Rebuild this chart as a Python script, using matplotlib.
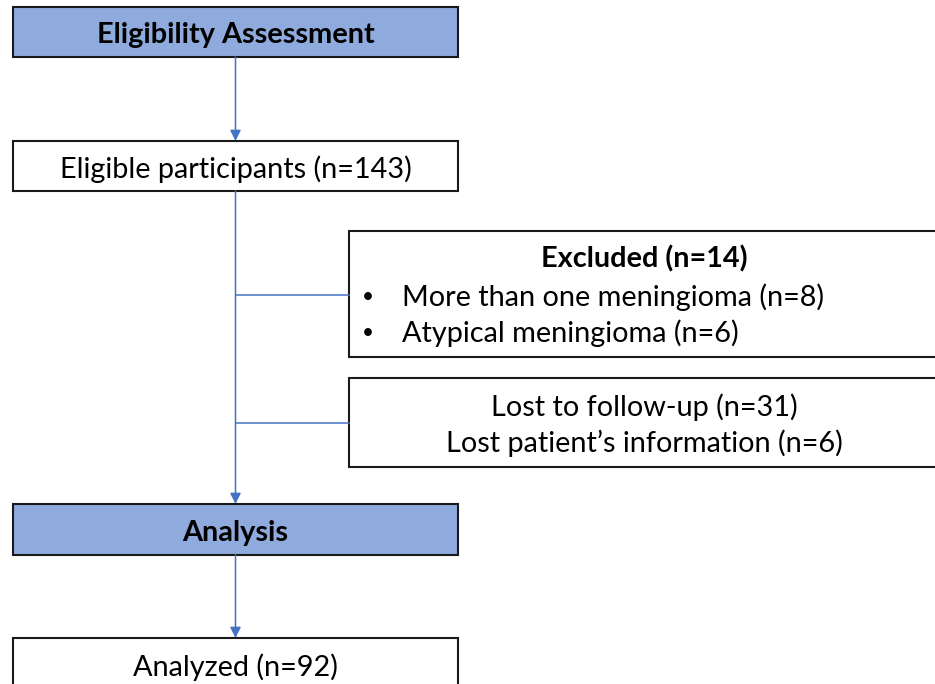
import matplotlib.pyplot as plt
from matplotlib.patches import Rectangle

plt.rcParams['font.family'] = ['Lato', 'DejaVu Sans']

# flowchart content
main_labels = ['Eligibility Assessment', 'Eligible participants (n=143)',
               'Analysis', 'Analyzed (n=92)']
main_bold = [True, False, True, False]
main_fill = ['#8FAADC', 'white', '#8FAADC', 'white']
excl_title = 'Excluded (n=14)'
excl_items = ['More than one meningioma (n=8)', 'Atypical meningioma (n=6)']
lost_items = ['Lost to follow-up (n=31)', 'Lost patient\u2019s information (n=6)']

# layout in pixels (y from top)
main_x0, main_x1 = 13, 458
main_y = [(7, 57), (141, 191), (504, 555), (638, 692)]
side_x0, side_x1 = 349, 945
excl_y = (231, 357)
lost_y = (378, 467)
cx = (main_x0 + main_x1) / 2
line_c = '#4472C4'

fig = plt.figure(figsize=(9.35, 6.84), dpi=100)
ax = fig.add_axes([0, 0, 1, 1])
ax.set_xlim(0, 935)
ax.set_ylim(684, 0)
ax.axis('off')

fs = 20.8

for (y0, y1), lab, b, fc in zip(main_y, main_labels, main_bold, main_fill):
    ax.add_patch(Rectangle((main_x0, y0), main_x1 - main_x0, y1 - y0,
                           facecolor=fc, edgecolor='#1a1a1a', lw=1.5))
    ax.text(cx, (y0 + min(y1, 690)) / 2 + 3, lab, ha='center', va='center',
            fontsize=fs, fontweight='bold' if b else 'normal')

# side boxes
for (y0, y1) in [excl_y, lost_y]:
    ax.add_patch(Rectangle((side_x0, y0), side_x1 - side_x0, y1 - y0,
                           facecolor='white', edgecolor='#1a1a1a', lw=1.5))

side_cx = 644
ax.text(side_cx, 259, excl_title, ha='center', va='center', fontsize=fs,
        fontweight='bold')
for i, item in enumerate(excl_items):
    yy = 297 + i * 36
    ax.text(362, yy, '\u2022', ha='left', va='center', fontsize=15)
    ax.text(402, yy, item, ha='left', va='center', fontsize=fs)
for i, item in enumerate(lost_items):
    ax.text(side_cx, 407 + i * 36, item, ha='center', va='center', fontsize=fs)

# connectors
arrow_kw = dict(arrowstyle='-|>', color=line_c, lw=1.1, mutation_scale=16,
                shrinkA=0, shrinkB=0)
ax.annotate('', xy=(cx, main_y[1][0]), xytext=(cx, main_y[0][1]), arrowprops=arrow_kw)
ax.annotate('', xy=(cx, main_y[2][0]), xytext=(cx, main_y[1][1]), arrowprops=arrow_kw)
ax.annotate('', xy=(cx, main_y[3][0]), xytext=(cx, main_y[2][1]), arrowprops=arrow_kw)
for yb in [295, 423]:
    ax.plot([cx, side_x0], [yb, yb], color=line_c, lw=1.1)

fig.savefig('out.png', dpi=100)
